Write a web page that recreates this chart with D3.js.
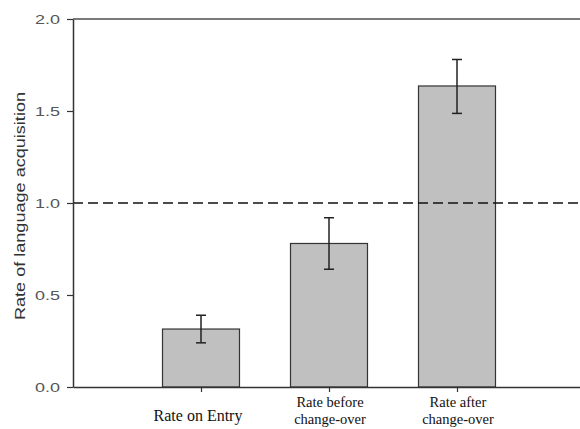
<!DOCTYPE html>
<html>
<head>
<meta charset="utf-8">
<script src="https://cdn.jsdelivr.net/npm/d3@7"></script>
<style>
  body { margin: 0; background: #fff; }
  svg { display: block; }
</style>
</head>
<body>
<div id="chart"></div>
<script>
// data
const categories = [["Rate on Entry"], ["Rate before", "change-over"], ["Rate after", "change-over"]];
const rates = [0.315, 0.78, 1.636];
const errUpper = [0.39, 0.92, 1.78];
const errLower = [0.24, 0.64, 1.487];
const yTicks = [0.0, 0.5, 1.0, 1.5, 2.0];
const refLine = 1.0;

const width = 580, height = 429;
const plot = {left: 73, top: 19, bottom: 387};

let svg = d3.select("#chart").append("svg")
  .attr("width", width)
  .attr("height", height);

// x: bars sit at positions 1,2,3
let xScale = d3.scaleLinear().domain([0, 4]).range([plot.left, plot.left + 4 * 128]);
let yScale = d3.scaleLinear().domain([0, 2]).range([plot.bottom, plot.top]);
const barW = 77;

// top frame line (grey)
svg.append("line")
  .attr("x1", plot.left).attr("x2", width)
  .attr("y1", yScale(2)).attr("y2", yScale(2))
  .attr("stroke", "#7a7a7a").attr("stroke-width", 2);

// bars
let bars = svg.append("g").attr("class", "bars");
bars.selectAll("rect")
  .data(rates)
  .enter().append("rect")
  .attr("x", (d, i) => xScale(i + 1) - barW / 2)
  .attr("y", d => yScale(d))
  .attr("width", barW)
  .attr("height", d => yScale(0) - yScale(d))
  .attr("fill", "#c0c0c0")
  .attr("stroke", "#333")
  .attr("stroke-width", 1.2);

// dashed reference line
svg.append("line")
  .attr("x1", plot.left).attr("x2", width)
  .attr("y1", yScale(refLine)).attr("y2", yScale(refLine))
  .attr("stroke", "#111").attr("stroke-width", 1.3)
  .attr("stroke-dasharray", "10,5");

// error bars
let errs = svg.append("g").attr("class", "errors")
  .attr("stroke", "#222").attr("stroke-width", 1.5);
rates.forEach(function(d, i) {
  let cx = xScale(i + 1);
  errs.append("line").attr("x1", cx).attr("x2", cx)
    .attr("y1", yScale(errUpper[i])).attr("y2", yScale(errLower[i]));
  errs.append("line").attr("x1", cx - 5).attr("x2", cx + 5)
    .attr("y1", yScale(errUpper[i])).attr("y2", yScale(errUpper[i]));
  errs.append("line").attr("x1", cx - 5).attr("x2", cx + 5)
    .attr("y1", yScale(errLower[i])).attr("y2", yScale(errLower[i]));
});

// y axis
let yAxis = svg.append("g")
  .attr("transform", "translate(" + plot.left + ",0)")
  .call(d3.axisLeft(yScale).tickValues(yTicks).tickFormat(d3.format(".1f"))
    .tickSize(6).tickPadding(7).tickSizeOuter(0));
yAxis.select(".domain").attr("stroke", "#333").attr("stroke-width", 1.5);
yAxis.selectAll(".tick line").attr("stroke", "#333").attr("stroke-width", 1.2);
yAxis.selectAll(".tick text")
  .attr("fill", "#555")
  .attr("font-family", "'Liberation Sans', Arial, sans-serif")
  .attr("font-size", 13)
  .attr("textLength", 25)
  .attr("lengthAdjust", "spacingAndGlyphs");

// x axis
let xAxis = svg.append("g")
  .attr("transform", "translate(0," + plot.bottom + ")")
  .call(d3.axisBottom(xScale).tickValues([1, 2, 3]).tickFormat("")
    .tickSize(5).tickSizeOuter(0));
xAxis.select(".domain").attr("stroke", "#333").attr("stroke-width", 1.5);
xAxis.selectAll(".tick line").attr("stroke", "#333").attr("stroke-width", 1.2);

// category labels (serif, possibly two lines)
let labels = svg.append("g")
  .attr("font-family", "'Liberation Serif', 'Times New Roman', serif")
  .attr("fill", "#111")
  .attr("text-anchor", "middle");
categories.forEach(function(lines, i) {
  let cx = xScale(i + 1) + (i === 0 ? -3 : 1);
  let t = labels.append("text")
    .attr("x", cx)
    .attr("font-size", lines.length === 1 ? 16 : 14.5)
    .attr("y", lines.length === 1 ? 421 : 407);
  lines.forEach(function(s, j) {
    t.append("tspan").attr("x", cx).attr("dy", j === 0 ? 0 : 17).text(s);
  });
});

// y axis title
svg.append("text")
  .attr("transform", "translate(25,206) rotate(-90)")
  .attr("text-anchor", "middle")
  .attr("fill", "#333")
  .attr("font-family", "'Liberation Sans', Arial, sans-serif")
  .attr("font-size", 15)
  .attr("textLength", 228)
  .attr("lengthAdjust", "spacingAndGlyphs")
  .text("Rate of language acquisition");
</script>
</body>
</html>
